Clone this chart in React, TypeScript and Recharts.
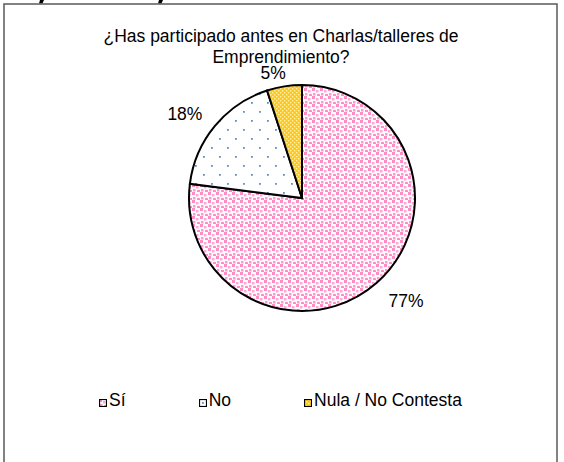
import React from "react";
import { PieChart, Pie, Cell, Legend } from "recharts";

const categories = ["Sí", "No", "Nula / No Contesta"];
const values = [77, 18, 5];
const titleLines = ["¿Has participado antes en Charlas/talleres de", "Emprendimiento?"];

const FONT = "'Liberation Sans', Arial, sans-serif";
const FILLS = ["url(#patSi)", "url(#patNo)", "url(#patNula)"];
// how far each % label sits outside the rim
const LABEL_GAP = [33, 31, 15];

const data = categories.map((name, i) => ({ name, value: values[i] }));

const renderLabel = ({ cx, cy, midAngle, outerRadius, percent, index }: any) => {
  const r = outerRadius + LABEL_GAP[index];
  const a = ((midAngle + 4) * Math.PI) / 180;
  const x = cx + r * Math.cos(a);
  const y = cy - r * Math.sin(a);
  return (
    <text
      x={x}
      y={y}
      textAnchor="middle"
      dominantBaseline="central"
      fill="#000"
      fontSize={17.5}
      fontFamily={FONT}
    >
      {`${Math.round(percent * 100)}%`}
    </text>
  );
};

const renderLegend = () => (
  <div
    style={{
      display: "flex",
      justifyContent: "center",
      fontFamily: FONT,
      fontSize: 17.5,
      color: "#000",
    }}
  >
    {categories.map((c, i) => (
      <div
        key={c}
        style={{
          display: "flex",
          alignItems: "center",
          marginRight: i < categories.length - 1 ? 73 : 0,
        }}
      >
        <svg width={8} height={8} style={{ marginRight: 2, marginTop: 4 }}>
          <rect x={0.5} y={0.5} width={7} height={7} fill={FILLS[i]} stroke="#000" strokeWidth={1.2} />
        </svg>
        <span>{c}</span>
      </div>
    ))}
  </div>
);

export default function App() {
  return (
    <div
      style={{
        position: "absolute",
        left: 0,
        top: 0,
        width: 564,
        height: 462,
        overflow: "hidden",
        background: "#fff",
      }}
    >
      <svg width={564} height={462} style={{ position: "absolute", left: 0, top: 0 }}>
        <defs>
          <pattern id="patSi" width={8} height={8} patternUnits="userSpaceOnUse">
            <rect width={8} height={8} fill="#fff" />
            <rect x={0} y={0} width={3} height={3} fill="#FF8CC6" />
            <rect x={4} y={2} width={2.5} height={2.5} fill="#FFA8D4" />
            <rect x={1} y={5} width={2.5} height={2.5} fill="#FF9ACD" />
            <rect x={5} y={6} width={3} height={2} fill="#FF8CC6" />
          </pattern>
          <pattern id="patNo" width={16} height={18} patternUnits="userSpaceOnUse">
            <rect width={16} height={18} fill="#fff" />
            <rect x={3} y={3} width={1.8} height={1.8} fill="#5B8FD0" />
            <rect x={11} y={12} width={1.8} height={1.8} fill="#5B8FD0" />
          </pattern>
          <pattern id="patNula" width={4} height={4} patternUnits="userSpaceOnUse">
            <rect width={4} height={4} fill="#FFC81A" />
            <rect x={0} y={0} width={1.4} height={1.4} fill="#FFF0A8" />
            <rect x={2} y={2} width={1.4} height={1.4} fill="#FFF0A8" />
          </pattern>
        </defs>
        <polygon points="40,0 44,0 42.5,3.5 39,3.5" fill="#000" />
        <polygon points="159,0 163,0 161.5,3.5 158,3.5" fill="#000" />
        <rect x={4} y={4} width={553} height={480} fill="none" stroke="#5a5a5a" strokeWidth={1.5} />
        {titleLines.map((t, i) => (
          <text
            key={t}
            x={281}
            y={42 + i * 21}
            textAnchor="middle"
            fontSize={17.5}
            fontFamily={FONT}
            fill="#000"
          >
            {t}
          </text>
        ))}
      </svg>
      <div style={{ position: "absolute", left: 0, top: 0 }}>
        <PieChart width={564} height={462} margin={{ top: 0, right: 0, bottom: 0, left: 0 }}>
          <Pie
            data={data}
            dataKey="value"
            nameKey="name"
            cx={302}
            cy={198}
            outerRadius={113}
            startAngle={90}
            endAngle={-270}
            stroke="#000"
            strokeWidth={2}
            label={renderLabel}
            labelLine={false}
            isAnimationActive={false}
          >
            {data.map((d, i) => (
              <Cell key={d.name} fill={FILLS[i]} />
            ))}
          </Pie>
          <Legend
            content={renderLegend}
            wrapperStyle={{ position: "absolute", left: 0, top: 390, width: 561 }}
          />
        </PieChart>
      </div>
    </div>
  );
}
